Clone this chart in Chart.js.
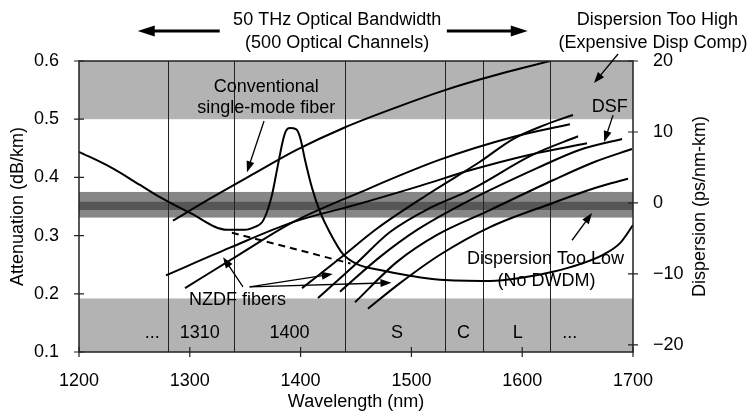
<!DOCTYPE html>
<html>
<head>
<meta charset="utf-8">
<title>Fiber attenuation and dispersion</title>
<script src="https://cdn.jsdelivr.net/npm/chart.js@4.4.1/dist/chart.umd.min.js"></script>
<style>
  body { margin: 0; background: #fff; }
  canvas { display: block; }
</style>
</head>
<body>
<canvas id="myChart" width="754" height="412"></canvas>
<script>
// axis ticks
const wavelengthTicks = [1200, 1300, 1400, 1500, 1600, 1700];
const attenuationTicks = [0.1, 0.2, 0.3, 0.4, 0.5, 0.6];
const dispersionTicks = [-20, -10, 0, 10, 20];

// attenuation curve (dB/km) with water peak
const attNm = [1200, 1228, 1255.1, 1273.1, 1300.2, 1333.6, 1349.8, 1358.8, 1365.2, 1369.7, 1374.2, 1378.7, 1384.1, 1386.8, 1390.4, 1395.8, 1399.5, 1404, 1410.3, 1417.5, 1426.5, 1438.3, 1450.9, 1471.7, 1498.7, 1525.8, 1570.9, 1598, 1627.8, 1652.2, 1672.9, 1688.3, 1700];
const attDb = [0.444, 0.418, 0.387, 0.366, 0.339, 0.31, 0.31, 0.315, 0.323, 0.341, 0.37, 0.413, 0.464, 0.48, 0.485, 0.483, 0.469, 0.43, 0.382, 0.341, 0.305, 0.268, 0.251, 0.241, 0.231, 0.224, 0.222, 0.227, 0.238, 0.251, 0.267, 0.287, 0.318];

// low water peak fiber (dashed)
const lowWaterNm = [1338, 1445];
const lowWaterDb = [0.305, 0.252];

// dispersion curves (ps/nm-km)
const smfNm = [1284.8, 1318.2, 1354.3, 1396.8, 1439.2, 1485.2, 1530.3, 1566.4, 1625.1];
const smfDisp = [-2.5, 0.6, 3.8, 7.5, 10.6, 13.4, 15.9, 17.6, 20];

const fiberBNm = [1278.5, 1336.3, 1393.1, 1453.6, 1507.8, 1552.9, 1607, 1658.5];
const fiberBDisp = [-10.2, -6.3, -2.7, -0.1, 2.4, 4.6, 6.8, 8.4];

const fiberCNm = [1295.7, 1345.3, 1393.1, 1453.6, 1525.8, 1591.7, 1643.1];
const fiberCDisp = [-12, -7.2, -2.7, 1.5, 6.1, 9.3, 11.1];

const fiberDNm = [1401.3, 1435.6, 1469.9, 1516.8, 1561.9, 1591.7, 1620.6, 1645.8];
const fiberDDisp = [-12, -7.8, -3.5, 1.4, 5.8, 9, 11, 12.4];

const fiberENm = [1415.7, 1449.1, 1480.7, 1516.8, 1552.9, 1609.7, 1650.4];
const fiberEDisp = [-13.4, -8.7, -4.1, -0.7, 1.8, 6.8, 9.4];

const dsfNm = [1435.6, 1471.7, 1505.1, 1552.9, 1613.4, 1652.2, 1690.1];
const dsfDisp = [-12.5, -7.6, -3.8, 0.4, 4.9, 7.5, 9];

const fiberGNm = [1449.1, 1487, 1523.1, 1570.9, 1627.8, 1665.7, 1699.1];
const fiberGDisp = [-14, -8.3, -4.5, -1, 3.2, 5.8, 7.6];

const fiberHNm = [1460.8, 1489.7, 1525.8, 1570.9, 1627.8, 1665.7, 1695.5];
const fiberHDisp = [-14.9, -11.3, -7.3, -3.4, 0, 2.1, 3.4];

// wavelength bands
const bandEdges = [1280, 1340, 1440, 1530, 1565, 1625];
const bandNames = ['...', '1310', '1400', 'S', 'C', 'L', '...'];
const bandNameNm = [1266, 1309, 1390, 1487, 1547, 1596, 1643];
const bandNameDb = 0.133;

// shaded regions on the attenuation scale
const grayBands = [[0.5, 0.6], [0.1, 0.192]];
const zeroBand = [0.331, 0.375];
const zeroCore = [0.344, 0.358];

// text notes and pointers (nm, dB/km)
const notes = [
  ['50 THz Optical Bandwidth', 1433, 0.670],
  ['(500 Optical Channels)', 1433, 0.631],
  ['Dispersion Too High', 1722, 0.670],
  ['(Expensive Disp Comp)', 1718, 0.631],
  ['DSF', 1679, 0.521],
  ['Conventional', 1369, 0.555],
  ['single-mode fiber', 1369, 0.519],
  ['NZDF fibers', 1343, 0.189],
  ['Dispersion Too Low', 1621, 0.260],
  ['(No DWDM)', 1622, 0.222],
];
const pointers = [
  [1327, 0.6515, 1253, 0.6515, true],
  [1532, 0.6515, 1605, 0.6515, true],
  [1686.5, 0.612, 1664.8, 0.562, false],
  [1682, 0.507, 1674, 0.461, false],
  [1367, 0.497, 1351.6, 0.409, false],
  [1348, 0.212, 1330, 0.263, false],
  [1354, 0.212, 1429, 0.234, false],
  [1354, 0.212, 1482, 0.219, false],
  [1645, 0.292, 1663, 0.339, false],
];

const FONT = "'Liberation Sans', Arial, Helvetica, sans-serif";

const pairs = function (xs, ys) {
  return xs.map((x, i) => ({ x: x, y: ys[i] }));
};

const curve = function (xs, ys, axis, dashed) {
  return {
    data: pairs(xs, ys),
    yAxisID: axis,
    showLine: true,
    borderColor: '#000',
    borderWidth: 2,
    borderDash: dashed ? [7, 5] : [],
    pointRadius: 0,
    cubicInterpolationMode: 'monotone',
    fill: false,
  };
};

const arrow = function (ctx, x1, y1, x2, y2, heavy) {
  const len = heavy ? 17 : 11;
  const half = heavy ? 5.5 : 4;
  const a = Math.atan2(y2 - y1, x2 - x1);
  ctx.save();
  ctx.strokeStyle = '#000';
  ctx.fillStyle = '#000';
  ctx.lineWidth = heavy ? 3 : 1.3;
  ctx.beginPath();
  ctx.moveTo(x1, y1);
  ctx.lineTo(x2 - Math.cos(a) * len * 0.8, y2 - Math.sin(a) * len * 0.8);
  ctx.stroke();
  ctx.beginPath();
  ctx.moveTo(x2, y2);
  ctx.lineTo(x2 - Math.cos(a) * len - Math.sin(a) * half, y2 - Math.sin(a) * len + Math.cos(a) * half);
  ctx.lineTo(x2 - Math.cos(a) * len + Math.sin(a) * half, y2 - Math.sin(a) * len - Math.cos(a) * half);
  ctx.closePath();
  ctx.fill();
  ctx.restore();
};

const backdrop = {
  id: 'backdrop',
  beforeDatasetsDraw(chart) {
    const ctx = chart.ctx;
    const area = chart.chartArea;
    const sx = chart.scales.x;
    const sy = chart.scales.y;
    const band = function (range, color) {
      const top = sy.getPixelForValue(range[1]);
      const bottom = sy.getPixelForValue(range[0]);
      ctx.fillStyle = color;
      ctx.fillRect(area.left, top, area.right - area.left, bottom - top);
    };
    ctx.save();
    grayBands.forEach((r) => band(r, '#b3b3b3'));
    band(zeroBand, '#868686');
    band(zeroCore, '#565656');

    ctx.strokeStyle = '#222';
    ctx.lineWidth = 1;
    bandEdges.forEach((nm) => {
      const x = Math.round(sx.getPixelForValue(nm)) + 0.5;
      ctx.beginPath();
      ctx.moveTo(x, area.top);
      ctx.lineTo(x, area.bottom);
      ctx.stroke();
    });

    ctx.fillStyle = '#000';
    ctx.font = '18px ' + FONT;
    ctx.textAlign = 'center';
    ctx.textBaseline = 'middle';
    bandNames.forEach((name, i) => {
      ctx.fillText(name, sx.getPixelForValue(bandNameNm[i]), sy.getPixelForValue(bandNameDb));
    });
    ctx.restore();
  },
  afterDatasetsDraw(chart) {
    const ctx = chart.ctx;
    const area = chart.chartArea;
    const sx = chart.scales.x;
    const sy = chart.scales.y;
    const sy2 = chart.scales.y2;
    ctx.save();

    // frame
    ctx.strokeStyle = '#222';
    ctx.lineWidth = 1.5;
    ctx.strokeRect(area.left, area.top, area.right - area.left, area.bottom - area.top);

    // tick marks crossing the axes
    ctx.lineWidth = 1.2;
    ctx.beginPath();
    wavelengthTicks.forEach((v) => {
      const x = sx.getPixelForValue(v);
      ctx.moveTo(x, area.bottom - 5);
      ctx.lineTo(x, area.bottom + 5);
    });
    attenuationTicks.forEach((v) => {
      const y = sy.getPixelForValue(v);
      ctx.moveTo(area.left - 5, y);
      ctx.lineTo(area.left + 5, y);
    });
    dispersionTicks.forEach((v) => {
      const y = sy2.getPixelForValue(v);
      ctx.moveTo(area.right - 5, y);
      ctx.lineTo(area.right + 5, y);
    });
    ctx.stroke();

    // notes
    ctx.fillStyle = '#000';
    ctx.font = '18px ' + FONT;
    ctx.textAlign = 'center';
    ctx.textBaseline = 'middle';
    notes.forEach((n) => {
      ctx.fillText(n[0], sx.getPixelForValue(n[1]), sy.getPixelForValue(n[2]));
    });
    pointers.forEach((p) => {
      arrow(ctx, sx.getPixelForValue(p[0]), sy.getPixelForValue(p[1]),
        sx.getPixelForValue(p[2]), sy.getPixelForValue(p[3]), p[4]);
    });

    // axis titles
    ctx.fillText('Wavelength (nm)', (area.left + area.right) / 2, area.bottom + 50);
    const midY = (area.top + area.bottom) / 2;
    ctx.save();
    ctx.translate(area.left - 61, midY);
    ctx.rotate(-Math.PI / 2);
    ctx.fillText('Attenuation (dB/km)', 0, 0);
    ctx.restore();
    ctx.save();
    ctx.translate(area.right + 67, midY);
    ctx.rotate(-Math.PI / 2);
    ctx.fillText('Dispersion (ps/nm-km)', 0, 0);
    ctx.restore();

    ctx.restore();
  },
};

const init = function () {
  const ctx = document.getElementById('myChart').getContext('2d');
  const tickFont = { family: FONT, size: 18 };
  new Chart(ctx, {
    type: 'scatter',
    data: {
      datasets: [
        curve(attNm, attDb, 'y'),
        curve(lowWaterNm, lowWaterDb, 'y', true),
        curve(smfNm, smfDisp, 'y2'),
        curve(fiberBNm, fiberBDisp, 'y2'),
        curve(fiberCNm, fiberCDisp, 'y2'),
        curve(fiberDNm, fiberDDisp, 'y2'),
        curve(fiberENm, fiberEDisp, 'y2'),
        curve(dsfNm, dsfDisp, 'y2'),
        curve(fiberGNm, fiberGDisp, 'y2'),
        curve(fiberHNm, fiberHDisp, 'y2'),
      ],
    },
    options: {
      responsive: false,
      devicePixelRatio: 1,
      animation: false,
      layout: { padding: { top: 61, left: 0, right: 0, bottom: 0 } },
      plugins: { legend: { display: false }, tooltip: { enabled: false } },
      scales: {
        x: {
          type: 'linear',
          min: 1200,
          max: 1700,
          grid: { display: false },
          border: { display: false },
          afterBuildTicks: (s) => { s.ticks = wavelengthTicks.map((v) => ({ value: v })); },
          afterFit: (s) => { s.height = 60; },
          ticks: { color: '#000', font: tickFont, padding: 10, maxRotation: 0, autoSkip: false, callback: (v) => String(v) },
        },
        y: {
          position: 'left',
          min: 0.1,
          max: 0.6,
          grid: { display: false },
          border: { display: false },
          afterBuildTicks: (s) => { s.ticks = attenuationTicks.map((v) => ({ value: v })); },
          afterFit: (s) => { s.width = 79; },
          ticks: { color: '#000', font: tickFont, padding: 12, callback: (v) => v.toFixed(1) },
        },
        y2: {
          position: 'right',
          min: -21,
          max: 20,
          grid: { display: false },
          border: { display: false },
          afterBuildTicks: (s) => { s.ticks = dispersionTicks.map((v) => ({ value: v })); },
          afterFit: (s) => { s.width = 121; },
          ticks: { color: '#000', font: tickFont, padding: 12, callback: (v) => (v < 0 ? '\u2212' + Math.abs(v) : String(v)) },
        },
      },
    },
    plugins: [backdrop],
  });
};

document.addEventListener('DOMContentLoaded', init);
</script>
</body>
</html>
